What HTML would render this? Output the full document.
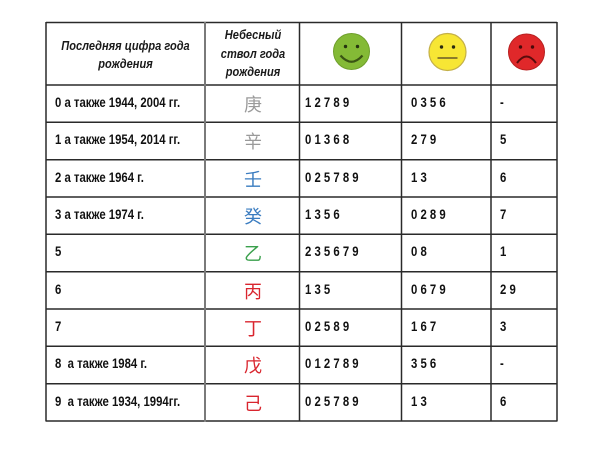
<!DOCTYPE html>
<html><head><meta charset="utf-8">
<style>
html,body{margin:0;padding:0;background:#fff;}
body{width:600px;height:455px;position:relative;overflow:hidden;font-family:"Liberation Sans","Noto Sans CJK SC",sans-serif;color:#111;}
.t{position:absolute;white-space:nowrap;}
.lab{font-weight:bold;font-size:13.5px;line-height:16px;left:55px;transform:scaleX(0.84);transform-origin:0 0;}
.num{font-weight:bold;font-size:13.5px;line-height:16px;transform:scaleX(0.84);transform-origin:0 0;}
.c3{left:305px}.c4{left:411px}.c5{left:500px}
.cj{font-family:"Noto Sans CJK SC","WenQuanYi Zen Hei",sans-serif;font-size:18px;width:96px;left:205px;text-align:center;}
.hd{font-weight:bold;font-style:italic;font-size:13px;text-align:center;color:#1a1a1a;transform:scaleX(0.85);transform-origin:50% 0;}
</style></head><body>
<svg width="600" height="455" style="position:absolute;left:0;top:0">
<g stroke="#2a2a2a" stroke-width="1.5" fill="none">
<line x1="46" y1="22.5" x2="557" y2="22.5"/>
<line x1="46" y1="85" x2="557" y2="85"/>
<line x1="46" y1="122.3" x2="557" y2="122.3"/>
<line x1="46" y1="159.7" x2="557" y2="159.7"/>
<line x1="46" y1="197" x2="557" y2="197"/>
<line x1="46" y1="234.3" x2="557" y2="234.3"/>
<line x1="46" y1="271.7" x2="557" y2="271.7"/>
<line x1="46" y1="309" x2="557" y2="309"/>
<line x1="46" y1="346.3" x2="557" y2="346.3"/>
<line x1="46" y1="383.7" x2="557" y2="383.7"/>
<line x1="46" y1="421" x2="557" y2="421"/>
<line x1="46" y1="22" x2="46" y2="421.5"/>
<line x1="299.5" y1="22" x2="299.5" y2="421.5"/>
<line x1="401.5" y1="22" x2="401.5" y2="421.5"/>
<line x1="491" y1="22" x2="491" y2="421.5"/>
<line x1="557" y1="22" x2="557" y2="421.5"/>
</g>
<line x1="205" y1="22" x2="205" y2="421.5" stroke="#7a7a7a" stroke-width="2"/>
<!-- green smiley -->
<circle cx="351.5" cy="51.5" r="18" fill="#84ba36" stroke="#6f9f2c" stroke-width="1"/>
<circle cx="345.5" cy="46.5" r="1.7" fill="#26330f"/>
<circle cx="357.5" cy="46.5" r="1.7" fill="#26330f"/>
<path d="M340.5,55.5 Q351.5,68 362.5,55.5" stroke="#3a5414" stroke-width="2.2" fill="none"/>
<!-- yellow smiley -->
<circle cx="447.5" cy="52" r="18.5" fill="#f7e634" stroke="#c4b048" stroke-width="1.2"/>
<circle cx="441.5" cy="47" r="1.7" fill="#2a2a10"/>
<circle cx="453.5" cy="47" r="1.7" fill="#2a2a10"/>
<line x1="437.5" y1="58" x2="457.5" y2="58" stroke="#8c7d2a" stroke-width="2"/>
<!-- red smiley -->
<circle cx="526.5" cy="52" r="18" fill="#e0282a" stroke="#b82020" stroke-width="1"/>
<circle cx="520.5" cy="47" r="1.7" fill="#4a0a0a"/>
<circle cx="532.5" cy="47" r="1.7" fill="#4a0a0a"/>
<path d="M517,63 Q526.5,50 536,63" stroke="#5a0c0c" stroke-width="2" fill="none"/>
</svg>

<div class="t hd" style="left:46px;width:159px;top:36.5px;line-height:18px;">Последняя цифра года<br>рождения</div>
<div class="t hd" style="left:205px;width:96px;top:26px;line-height:18.5px;">Небесный<br>ствол года<br>рождения</div>

<div class="t lab" style="top:95px">0 а также 1944, 2004 гг.</div>
<div class="t cj" style="top:91px;color:#9a9a9a">庚</div>
<div class="t num c3" style="top:95px">1 2 7 8 9</div>
<div class="t num c4" style="top:95px">0 3 5 6</div>
<div class="t num c5" style="top:95px">-</div>

<div class="t lab" style="top:132.3px">1 а также 1954, 2014 гг.</div>
<div class="t cj" style="top:128.3px;color:#9a9a9a">辛</div>
<div class="t num c3" style="top:132.3px">0 1 3 6 8</div>
<div class="t num c4" style="top:132.3px">2 7 9</div>
<div class="t num c5" style="top:132.3px">5</div>

<div class="t lab" style="top:169.7px">2 а также 1964 г.</div>
<div class="t cj" style="top:165.7px;color:#3a7cc0">壬</div>
<div class="t num c3" style="top:169.7px">0 2 5 7 8 9</div>
<div class="t num c4" style="top:169.7px">1 3</div>
<div class="t num c5" style="top:169.7px">6</div>

<div class="t lab" style="top:207px">3 а также 1974 г.</div>
<div class="t cj" style="top:203px;color:#3a7cc0">癸</div>
<div class="t num c3" style="top:207px">1 3 5 6</div>
<div class="t num c4" style="top:207px">0 2 8 9</div>
<div class="t num c5" style="top:207px">7</div>

<div class="t lab" style="top:244.3px">5</div>
<div class="t cj" style="top:240.3px;color:#3aa04c">乙</div>
<div class="t num c3" style="top:244.3px">2 3 5 6 7 9</div>
<div class="t num c4" style="top:244.3px">0 8</div>
<div class="t num c5" style="top:244.3px">1</div>

<div class="t lab" style="top:281.7px">6</div>
<div class="t cj" style="top:277.7px;color:#d9252e">丙</div>
<div class="t num c3" style="top:281.7px">1 3 5</div>
<div class="t num c4" style="top:281.7px">0 6 7 9</div>
<div class="t num c5" style="top:281.7px">2 9</div>

<div class="t lab" style="top:319px">7</div>
<div class="t cj" style="top:315px;color:#d9252e">丁</div>
<div class="t num c3" style="top:319px">0 2 5 8 9</div>
<div class="t num c4" style="top:319px">1 6 7</div>
<div class="t num c5" style="top:319px">3</div>

<div class="t lab" style="top:356.3px">8&nbsp; а также 1984 г.</div>
<div class="t cj" style="top:352.3px;color:#d9252e">戊</div>
<div class="t num c3" style="top:356.3px">0 1 2 7 8 9</div>
<div class="t num c4" style="top:356.3px">3 5 6</div>
<div class="t num c5" style="top:356.3px">-</div>

<div class="t lab" style="top:393.7px">9&nbsp; а также 1934, 1994гг.</div>
<div class="t cj" style="top:389.7px;color:#d9252e">己</div>
<div class="t num c3" style="top:393.7px">0 2 5 7 8 9</div>
<div class="t num c4" style="top:393.7px">1 3</div>
<div class="t num c5" style="top:393.7px">6</div>
</body></html>
